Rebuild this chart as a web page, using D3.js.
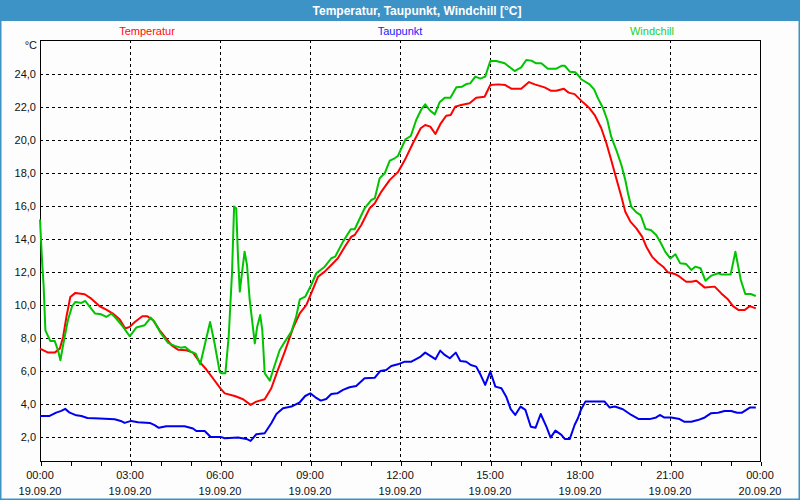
<!DOCTYPE html>
<html><head><meta charset="utf-8">
<script src="https://cdn.jsdelivr.net/npm/d3@7"></script>
<style>
html,body{margin:0;padding:0;background:#fcfdfc;}
svg{display:block;font-family:"Liberation Sans",Arial,sans-serif;}
</style></head><body>
<svg id="c" width="800" height="500"></svg>
<script>
const title = "Temperatur, Taupunkt, Windchill [°C]";
const seriesNames = ["Temperatur", "Taupunkt", "Windchill"];
const yUnit = "°C";
const yTicks = [2,4,6,8,10,12,14,16,18,20,22,24];
const xTickHours = [0,3,6,9,12,15,18,21,24];
const xTickTimes = ["00:00","03:00","06:00","09:00","12:00","15:00","18:00","21:00","00:00"];
const xTickDates = ["19.09.20","19.09.20","19.09.20","19.09.20","19.09.20","19.09.20","19.09.20","19.09.20","20.09.20"];

const temperatur = [[0,7.37],[0.27,7.13],[0.49,7.13],[0.66,7.37],[0.77,8.08],[0.88,9.29],[1.01,10.5],[1.18,10.75],[1.49,10.67],[1.71,10.4],[1.99,9.94],[2.21,9.74],[2.43,9.5],[2.66,9.13],[2.84,8.59],[2.99,8.69],[3.16,8.99],[3.41,9.33],[3.58,9.33],[3.77,9.09],[3.99,8.48],[4.21,7.98],[4.38,7.58],[4.6,7.31],[4.88,7.27],[5.1,7.13],[5.32,6.57],[5.54,6.12],[5.77,5.56],[6.02,4.95],[6.16,4.66],[6.49,4.5],[6.77,4.3],[7.02,3.96],[7.21,4.16],[7.49,4.3],[7.71,4.97],[7.93,6.08],[8.16,7.19],[8.43,8.6],[8.66,9.51],[8.88,10.02],[9.04,10.72],[9.27,11.73],[9.49,12.04],[9.71,12.44],[9.93,12.85],[10.16,13.55],[10.38,14.16],[10.49,14.26],[10.71,14.87],[10.99,15.88],[11.16,16.18],[11.38,16.89],[11.66,17.6],[11.93,18.07],[12.16,18.8],[12.43,19.82],[12.69,20.73],[12.84,20.93],[13.01,20.83],[13.18,20.38],[13.36,21.03],[13.54,21.49],[13.69,21.53],[13.84,22.04],[14.04,22.14],[14.32,22.24],[14.54,22.58],[14.82,22.64],[15.01,23.35],[15.27,23.39],[15.51,23.35],[15.71,23.13],[16.04,23.13],[16.3,23.53],[16.49,23.39],[16.82,23.21],[17.04,23.0],[17.21,23.0],[17.46,23.13],[17.62,22.89],[17.82,22.8],[18.1,22.3],[18.32,21.94],[18.49,21.53],[18.71,20.73],[18.88,19.82],[19.04,18.8],[19.21,17.69],[19.38,16.58],[19.51,15.67],[19.68,15.07],[19.88,14.66],[20.07,14.16],[20.21,13.55],[20.4,12.95],[20.6,12.58],[20.77,12.34],[20.93,12.0],[21.16,11.9],[21.32,11.73],[21.54,11.43],[21.71,11.43],[21.88,11.49],[22.16,11.07],[22.49,11.13],[22.71,10.72],[22.93,10.36],[23.1,9.95],[23.29,9.71],[23.49,9.71],[23.66,9.95],[23.86,9.81]];

const taupunkt = [[0,3.29],[0.32,3.29],[0.54,3.49],[0.71,3.6],[0.84,3.72],[0.99,3.49],[1.21,3.33],[1.38,3.29],[1.58,3.17],[1.99,3.13],[2.49,3.09],[2.69,2.99],[2.82,2.87],[3.04,2.99],[3.27,2.91],[3.66,2.87],[3.82,2.73],[3.96,2.57],[4.21,2.67],[4.82,2.67],[5.1,2.53],[5.21,2.38],[5.49,2.38],[5.69,2.02],[6.02,2.02],[6.16,1.94],[6.6,1.98],[6.88,1.9],[7.02,1.78],[7.21,2.18],[7.49,2.24],[7.71,2.85],[7.88,3.41],[8.1,3.76],[8.38,3.86],[8.66,4.12],[8.84,4.5],[9.01,4.66],[9.18,4.42],[9.36,4.22],[9.54,4.32],[9.71,4.62],[9.91,4.66],[10.1,4.87],[10.32,5.03],[10.54,5.11],[10.82,5.57],[11.16,5.61],[11.34,6.01],[11.54,6.08],[11.71,6.32],[11.93,6.42],[12.16,6.58],[12.38,6.58],[12.66,6.85],[12.84,7.13],[13.01,6.93],[13.18,6.73],[13.34,7.25],[13.49,6.99],[13.66,6.79],[13.86,7.13],[14.01,6.62],[14.21,6.58],[14.36,6.38],[14.54,6.28],[14.69,5.77],[14.84,5.17],[15.01,5.98],[15.18,5.07],[15.38,4.97],[15.54,4.46],[15.69,3.7],[15.84,3.35],[16.02,3.86],[16.18,3.66],[16.36,2.64],[16.52,2.58],[16.69,3.41],[16.88,2.64],[17.02,1.98],[17.18,2.4],[17.38,2.14],[17.49,1.9],[17.66,1.9],[17.82,2.74],[17.93,3.15],[18.04,3.7],[18.18,4.16],[18.82,4.16],[18.99,3.8],[19.16,3.86],[19.43,3.7],[19.71,3.35],[19.96,3.1],[20.32,3.1],[20.54,3.2],[20.66,3.35],[20.8,3.2],[21.04,3.2],[21.32,3.1],[21.47,2.94],[21.71,2.94],[21.93,3.04],[22.16,3.2],[22.36,3.45],[22.6,3.49],[22.82,3.59],[23.04,3.59],[23.24,3.49],[23.4,3.49],[23.66,3.8],[23.86,3.8]];

const windchill = [[0,15.2],[0.07,12.63],[0.12,11.21],[0.18,8.48],[0.34,7.84],[0.49,7.84],[0.6,7.27],[0.68,6.67],[0.8,7.88],[0.93,9.09],[1.07,9.94],[1.18,10.2],[1.38,10.14],[1.51,10.26],[1.66,9.9],[1.84,9.5],[2.04,9.45],[2.21,9.29],[2.38,9.5],[2.54,9.19],[2.77,8.69],[2.99,8.12],[3.21,8.65],[3.49,8.79],[3.69,9.25],[3.82,8.99],[4.02,8.32],[4.27,7.72],[4.49,7.54],[4.69,7.43],[4.84,7.47],[5.04,7.17],[5.19,7.07],[5.34,6.42],[5.49,7.58],[5.67,8.99],[5.82,7.68],[5.99,5.96],[6.04,5.88],[6.18,5.88],[6.29,8.1],[6.4,11.94],[6.47,15.98],[6.54,15.88],[6.6,12.95],[6.66,10.83],[6.73,11.94],[6.82,13.25],[6.9,12.44],[6.99,10.32],[7.16,7.69],[7.24,8.7],[7.34,9.41],[7.41,8.5],[7.49,5.88],[7.66,5.43],[7.77,6.08],[7.99,7.29],[8.16,7.79],[8.38,8.4],[8.54,9.31],[8.66,10.36],[8.84,10.52],[9.04,11.23],[9.21,11.94],[9.49,12.34],[9.71,12.85],[9.84,12.95],[10.1,13.86],[10.36,14.61],[10.49,14.61],[10.82,15.88],[11.04,16.38],[11.16,16.48],[11.32,17.69],[11.49,18.0],[11.66,18.77],[11.82,18.91],[11.93,19.05],[12.07,19.61],[12.18,20.06],[12.36,20.26],[12.54,21.23],[12.71,21.87],[12.84,22.18],[13.01,21.79],[13.16,21.57],[13.32,22.3],[13.49,22.58],[13.68,22.58],[13.88,23.21],[14.07,23.25],[14.21,23.41],[14.34,23.45],[14.51,23.86],[14.68,23.74],[14.84,23.86],[15.01,24.81],[15.21,24.81],[15.49,24.67],[15.82,24.2],[16.04,24.42],[16.21,24.87],[16.38,24.83],[16.54,24.67],[16.71,24.67],[16.93,24.34],[17.21,24.34],[17.4,24.52],[17.49,24.52],[17.66,24.16],[17.84,24.12],[17.93,23.96],[18.04,23.7],[18.32,23.39],[18.47,23.09],[18.6,22.54],[18.77,21.94],[18.91,21.23],[19.04,20.22],[19.21,19.41],[19.38,18.5],[19.51,17.59],[19.6,16.78],[19.71,15.97],[19.88,15.63],[20.02,15.47],[20.19,14.62],[20.36,14.56],[20.54,14.26],[20.69,13.79],[20.84,13.25],[21.01,12.84],[21.18,13.09],[21.34,12.54],[21.54,12.5],[21.71,12.14],[21.84,12.34],[22.02,12.24],[22.18,11.49],[22.38,11.8],[22.6,11.94],[22.73,11.86],[23.02,11.86],[23.18,13.25],[23.36,11.53],[23.51,10.68],[23.69,10.68],[23.86,10.56]];

const colors = ["#ff0000", "#0000f0", "#00c400"];
const legendColors = ["#ff0a0a", "#1a1aff", "#22d022"];

const W = 800, H = 500;
const L = 40, R = 760, T = 40, B = 461;
const svg = d3.select("#c");

// background & frame
svg.append("rect").attr("x",0).attr("y",0).attr("width",W).attr("height",H).attr("fill","#fcfdfc");
svg.append("rect").attr("x",0).attr("y",0).attr("width",W).attr("height",21).attr("fill","#3d93c6");
svg.append("rect").attr("x",0.75).attr("y",0).attr("width",W-1.5).attr("height",H-0.75)
  .attr("fill","none").attr("stroke","#3d93c6").attr("stroke-width",1.5);
svg.append("text").attr("x",417).attr("y",15).attr("text-anchor","middle")
  .attr("fill","#fff").attr("font-weight","bold").attr("font-size","12px").text(title);

const x = d3.scaleLinear().domain([0,24]).range([L,R]);
const y = d3.scaleLinear().domain([0.56,26.08]).range([B,T]);
const px = v => Math.round(v) + 0.5;

// gridlines
const g = svg.append("g").attr("shape-rendering","crispEdges");
g.selectAll(".hg").data(yTicks).join("line")
  .attr("x1",L).attr("x2",R).attr("y1",d=>px(y(d))).attr("y2",d=>px(y(d)))
  .attr("stroke","#000").attr("stroke-dasharray","3,3");
g.selectAll(".vg").data(xTickHours.filter(h=>h>0 && h<24)).join("line")
  .attr("y1",T).attr("y2",B).attr("x1",d=>px(x(d))).attr("x2",d=>px(x(d)))
  .attr("stroke","#000").attr("stroke-dasharray","3,3");

// lines
const line = d3.line().x(d=>x(d[0])).y(d=>y(d[1]));
const series = [temperatur, taupunkt, windchill];
svg.append("g").attr("clip-path",null).selectAll("path").data(series).join("path")
  .attr("d", line).attr("fill","none")
  .attr("stroke",(d,i)=>colors[i]).attr("stroke-width",2).attr("stroke-linejoin","round");

// frame
g.append("rect").attr("x",L+0.5).attr("y",T+0.5).attr("width",R-L).attr("height",B-T)
  .attr("fill","none").attr("stroke","#000");

// x axis ticks and labels
const xAxis = d3.axisBottom(x).tickValues(d3.range(0,25,1)).tickSize(4).tickFormat("");
const ax = svg.append("g").attr("transform",`translate(0.5,${B+0.5})`).call(xAxis);
ax.select(".domain").remove();
ax.selectAll("line").attr("stroke","#000").attr("shape-rendering","crispEdges");

const xl = svg.append("g");
xl.selectAll(".t").data(xTickHours).join("text")
  .attr("x",d=>x(d)).attr("y",479).attr("text-anchor","middle")
  .attr("font-size","11px").attr("fill","#111").text((d,i)=>xTickTimes[i]);
xl.selectAll(".d").data(xTickHours).join("text")
  .attr("x",d=>x(d)).attr("y",495).attr("text-anchor","middle")
  .attr("font-size","11px").attr("fill","#111").text((d,i)=>xTickDates[i]);

// y labels
svg.append("g").selectAll("text").data(yTicks).join("text")
  .attr("x",36).attr("y",d=>y(d)+4).attr("text-anchor","end")
  .attr("font-size","11px").attr("fill","#111").text(d=>d3.format(".1f")(d).replace(".",","));
svg.append("text").attr("x",37).attr("y",49).attr("text-anchor","end")
  .attr("font-size","11px").attr("fill","#111").text(yUnit);

// legend
const legendX = [147, 400, 652];
svg.append("g").selectAll("text").data(seriesNames).join("text")
  .attr("x",(d,i)=>legendX[i]).attr("y",35).attr("text-anchor","middle")
  .attr("font-size","11px").attr("fill",(d,i)=>legendColors[i]).text(d=>d);
</script>
</body></html>
